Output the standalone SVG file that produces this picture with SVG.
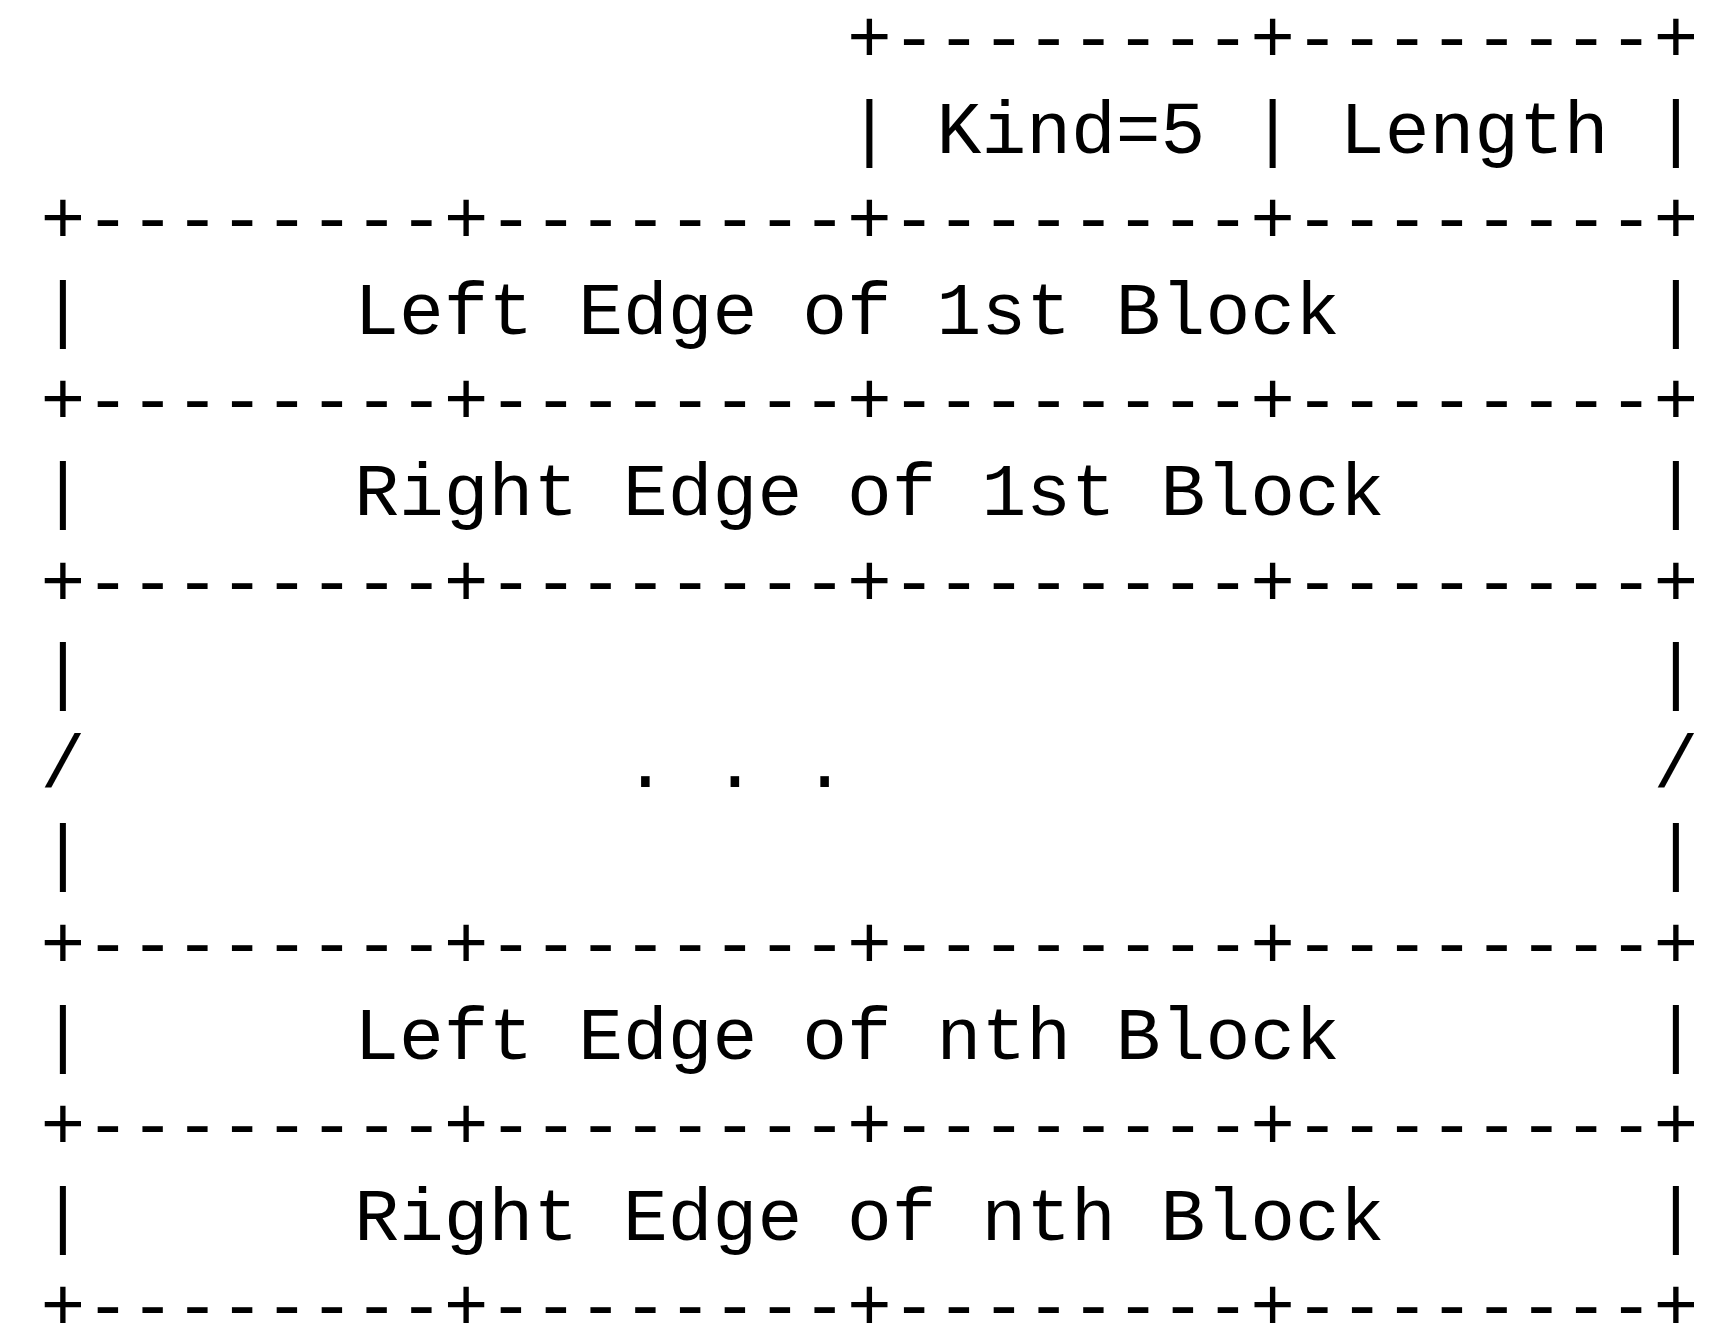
<svg xmlns="http://www.w3.org/2000/svg" width="1712" height="1326" viewBox="0 0 1712 1326">
<style>
text{font-family:"Liberation Mono","Courier New",monospace;font-size:74.67px;fill:#000;white-space:pre}
</style>
<rect width="1712" height="1326" fill="#fff"/>
<g id="header" xml:space="preserve">
<text x="40.6" y="62">                  +--------+--------+</text>
<text x="40.6" y="152.6">                  | Kind=5 | Length |</text>
<text x="40.6" y="243.2">+--------+--------+--------+--------+</text>
</g>
<g id="left1" xml:space="preserve">
<text x="40.6" y="333.8">|      Left Edge of 1st Block       |</text>
<text x="40.6" y="424.4">+--------+--------+--------+--------+</text>
</g>
<g id="right1" xml:space="preserve">
<text x="40.6" y="515">|      Right Edge of 1st Block      |</text>
<text x="40.6" y="605.6">+--------+--------+--------+--------+</text>
</g>
<g id="ellipsis" xml:space="preserve">
<text x="40.6" y="696.2">|                                   |</text>
<text x="40.6" y="786.8">/            . . .                  /</text>
<text x="40.6" y="877.4">|                                   |</text>
<text x="40.6" y="968">+--------+--------+--------+--------+</text>
</g>
<g id="leftn" xml:space="preserve">
<text x="40.6" y="1058.6">|      Left Edge of nth Block       |</text>
<text x="40.6" y="1149.2">+--------+--------+--------+--------+</text>
</g>
<g id="rightn" xml:space="preserve">
<text x="40.6" y="1239.8">|      Right Edge of nth Block      |</text>
<text x="40.6" y="1330.4">+--------+--------+--------+--------+</text>
</g>
</svg>
